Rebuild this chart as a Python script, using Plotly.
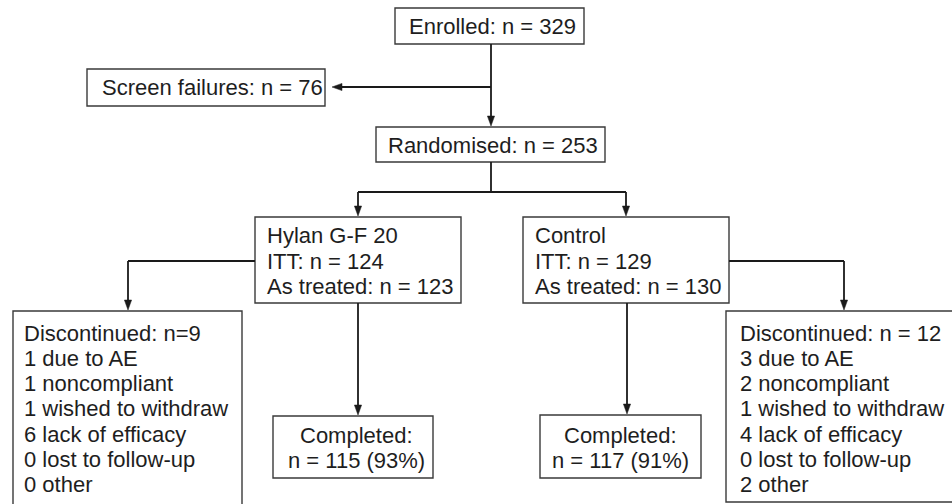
import plotly.graph_objects as go

# ---------------- data ----------------
enrolled_n = 329
screen_fail_n = 76
randomised_n = 253
arms = ["Hylan G-F 20", "Control"]
itt_n = [124, 129]
treated_n = [123, 130]
discontinued_n = [9, 12]
disc_eq = ["=", " = "]
reason_labels = ["due to AE", "noncompliant", "wished to withdraw",
                 "lack of efficacy", "lost to follow-up", "other"]
reason_counts_hylan = [1, 1, 1, 6, 0, 0]
reason_counts_control = [3, 2, 1, 4, 0, 2]
completed_n = [115, 117]
completed_pct = [93, 91]

# ---------------- layout geometry (pixels, y downwards) ----------------
W, H = 952, 504
FONT = "Liberation Sans, Arial, sans-serif"
FS = 22
TXT = "#1e1e1e"
LINE = "#1a1a1a"
BORDER = "#3a3a3a"

boxes = {
    "enrolled": (395, 8, 584, 44),
    "screen": (87, 69, 325, 106),
    "random": (376, 127, 605, 162),
    "arm0": (255, 217, 461, 303),
    "arm1": (523, 217, 729, 303),
    "disc0": (13, 311, 242, 515),
    "disc1": (726, 311, 965, 502),
    "comp0": (273, 416, 433, 478),
    "comp1": (540, 415, 701, 478),
}

fig = go.Figure()
fig.add_trace(go.Scatter(x=[0, W], y=[0, H], mode="markers",
                         marker=dict(opacity=0), hoverinfo="skip", showlegend=False))

shapes = []
for (x0, y0, x1, y1) in boxes.values():
    shapes.append(dict(type="rect", xref="x", yref="y", x0=x0, y0=y0, x1=x1, y1=y1,
                       line=dict(color=BORDER, width=1.4), fillcolor="rgba(0,0,0,0)"))


def seg(p, q, w=1.8):
    shapes.append(dict(type="line", xref="x", yref="y", x0=p[0], y0=p[1], x1=q[0], y1=q[1],
                       line=dict(color=LINE, width=w)))


def arrow(points, L=10, hw=3.6):
    pts = list(points)
    tip = pts[-1]
    prev = pts[-2]
    dx, dy = tip[0] - prev[0], tip[1] - prev[1]
    n = (dx * dx + dy * dy) ** 0.5
    ux, uy = dx / n, dy / n
    base = (tip[0] - ux * L, tip[1] - uy * L)
    pts[-1] = base
    for a, b in zip(pts[:-1], pts[1:]):
        seg(a, b)
    px, py = -uy, ux
    path = (f"M {tip[0]} {tip[1]} L {base[0] + px * hw} {base[1] + py * hw} "
            f"L {base[0] - px * hw} {base[1] - py * hw} Z")
    shapes.append(dict(type="path", xref="x", yref="y", path=path,
                       fillcolor=LINE, line=dict(color=LINE, width=0.5)))


arrow([(491, 44), (491, 126)])
arrow([(491, 87), (332, 87)])
seg((491, 162), (491, 192))
seg((358, 192), (626, 192))
arrow([(358, 192), (358, 216)])
arrow([(626, 192), (626, 216)])
arrow([(255, 261), (128, 261), (128, 310)])
arrow([(729, 261), (844, 261), (844, 310)])
arrow([(358, 303), (358, 415)])
arrow([(627, 303), (627, 414)])

annotations = []


def text(x, y, s, anchor="left"):
    annotations.append(dict(x=x, y=y, xref="x", yref="y", text=s, showarrow=False,
                            xanchor=anchor, yanchor="middle",
                            font=dict(family=FONT, size=FS, color=TXT)))


text(407, 26, f"Enrolled: n = {enrolled_n}")
text(100, 87, f"Screen failures: n = {screen_fail_n}")
text(386, 145, f"Randomised: n = {randomised_n}")

arm_x = [265, 533]
disc_x = [22, 738]
comp_cx = [356, 620]
reasons = [reason_counts_hylan, reason_counts_control]
for i in range(2):
    text(arm_x[i], 235.5, arms[i])
    text(arm_x[i], 261, f"ITT: n = {itt_n[i]}")
    text(arm_x[i], 286, f"As treated: n = {treated_n[i]}")
    text(disc_x[i], 333.3, f"Discontinued: n{disc_eq[i]}{discontinued_n[i]}")
    for k, lab in enumerate(reason_labels):
        text(disc_x[i], 333.3 + 25.2 * (k + 1), f"{reasons[i][k]} {lab}")
    text(comp_cx[i], 435, "Completed:", anchor="center")
    text(comp_cx[i], 460.5, f"n = {completed_n[i]} ({completed_pct[i]}%)", anchor="center")

fig.update_layout(
    width=W, height=H,
    margin=dict(l=0, r=0, t=0, b=0),
    paper_bgcolor="white", plot_bgcolor="white",
    xaxis=dict(range=[0, W], visible=False, fixedrange=True),
    yaxis=dict(range=[H, 0], visible=False, fixedrange=True),
    shapes=shapes, annotations=annotations, showlegend=False,
)
fig.write_html("out.html", config=dict(displayModeBar=False),
               post_script="document.body.style.margin='0';document.body.style.overflow='hidden';")
